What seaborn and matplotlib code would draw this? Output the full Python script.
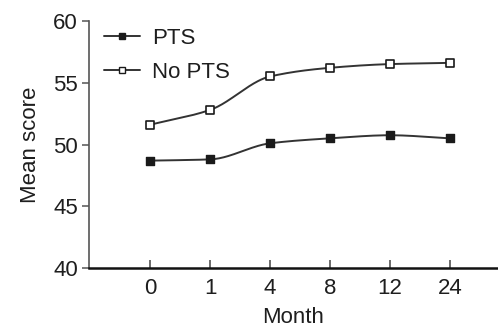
import numpy as np
import pandas as pd
import matplotlib
matplotlib.use("Agg")
import matplotlib.pyplot as plt
from matplotlib.lines import Line2D
import seaborn as sns

# ---- data ----
months = ["0", "1", "4", "8", "12", "24"]
pts = [48.7, 48.8, 50.1, 50.5, 50.75, 50.5]
no_pts = [51.6, 52.8, 55.5, 56.2, 56.5, 56.6]
series_names = ["PTS", "No PTS"]
y_ticks = [40, 45, 50, 55, 60]
x_label = "Month"
y_label = "Mean score"

sns.set_theme(style="ticks")
plt.rcParams['font.family'] = ['Liberation Sans', 'DejaVu Sans']

pos = np.arange(len(months))
df = pd.DataFrame({
    "pos": np.concatenate([pos, pos]),
    "score": pts + no_pts,
    "group": [series_names[0]] * len(pts) + [series_names[1]] * len(no_pts),
})


def pchip(x, y, n=40):
    x = np.asarray(x, float)
    y = np.asarray(y, float)
    h = np.diff(x)
    d = np.diff(y) / h
    m = np.zeros_like(y)
    m[0], m[-1] = d[0], d[-1]
    for i in range(1, len(y) - 1):
        if d[i - 1] * d[i] > 0:
            m[i] = 2.0 / (1.0 / d[i - 1] + 1.0 / d[i])
        else:
            m[i] = 0.0
    xs, ys = [], []
    for i in range(len(x) - 1):
        t = np.linspace(0, 1, n, endpoint=(i == len(x) - 2))
        h00 = 2 * t**3 - 3 * t**2 + 1
        h10 = t**3 - 2 * t**2 + t
        h01 = -2 * t**3 + 3 * t**2
        h11 = t**3 - t**2
        xs.append(x[i] + t * h[i])
        ys.append(h00 * y[i] + h10 * h[i] * m[i] + h01 * y[i + 1] + h11 * h[i] * m[i + 1])
    return np.concatenate(xs), np.concatenate(ys)


fig = plt.figure(figsize=(4.98, 3.27), dpi=100)
ax = fig.add_axes([0.1787, 0.1795, 0.8213, 0.757])

dark = "#1a1a1a"

for name in series_names:
    sub = df[df["group"] == name]
    sx, sy = pchip(sub["pos"].values, sub["score"].values)
    ax.plot(sx, sy, color="#333333", lw=1.4, zorder=2)

sns.scatterplot(data=df[df["group"] == series_names[0]], x="pos", y="score", ax=ax,
                marker="s", s=40, color=dark, edgecolor=dark, linewidth=1.0, zorder=3, legend=False)
sns.scatterplot(data=df[df["group"] == series_names[1]], x="pos", y="score", ax=ax,
                marker="s", s=36, facecolor="white", edgecolor=dark, linewidth=1.2, zorder=3, legend=False)

ax.set_xlim(-1.02, 5.8)
ax.set_ylim(40, 60)
ax.set_yticks(y_ticks)
ax.set_xticks(pos)
ax.set_xticklabels(months)

ax.set_xlabel(x_label, fontsize=16, color="#1e1e1e", labelpad=6)
ax.set_ylabel(y_label, fontsize=16, color="#1e1e1e", labelpad=9)

ax.tick_params(axis="y", direction="out", length=5, width=1.1, color="#555555",
               labelsize=16, labelcolor="#1e1e1e", pad=3)
ax.tick_params(axis="x", direction="in", length=6, width=1.1, color="#444444",
               labelsize=16, labelcolor="#1e1e1e", pad=7)

for s in ["top", "right"]:
    ax.spines[s].set_visible(False)
ax.spines["left"].set_color("#555555")
ax.spines["left"].set_linewidth(1.2)
ax.spines["bottom"].set_color("#111111")
ax.spines["bottom"].set_linewidth(1.8)

handles = [
    Line2D([0], [0], color="#333333", lw=1.4, marker="s", markersize=5,
           markerfacecolor=dark, markeredgecolor=dark),
    Line2D([0], [0], color="#333333", lw=1.4, marker="s", markersize=5,
           markerfacecolor="white", markeredgecolor=dark),
]
leg = ax.legend(handles, series_names, loc="upper left", bbox_to_anchor=(0.005, 1.025),
                frameon=False, fontsize=16, handlelength=1.6, handletextpad=0.55,
                labelspacing=0.6, borderaxespad=0.2)
for t in leg.get_texts():
    t.set_color("#1e1e1e")

fig.savefig("out.png", dpi=100)
